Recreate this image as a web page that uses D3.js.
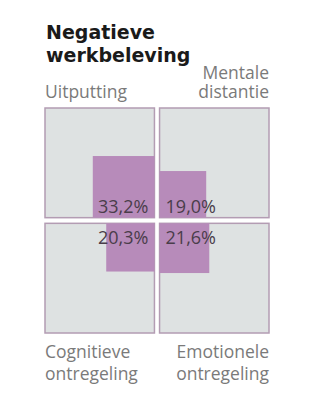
<!DOCTYPE html>
<html>
<head>
<meta charset="utf-8">
<script src="https://cdn.jsdelivr.net/npm/d3@7"></script>
<style>
  body { margin: 0; background: #fff; }
</style>
</head>
<body>
<div id="chart"></div>
<script>
const titleLines = ["Negatieve", "werkbeleving"];
const categories = [
  ["Uitputting"],
  ["Mentale", "distantie"],
  ["Cognitieve", "ontregeling"],
  ["Emotionele", "ontregeling"]
];
const values = [33.2, 19.0, 20.3, 21.6];
const valueLabels = ["33,2%", "19,0%", "20,3%", "21,6%"];

const width = 309,
  height = 401,
  gridLeft = 45,
  gridTop = 108,
  cell = 107,
  gapX = 10,
  gapY = 11;

const svg = d3.select("#chart").append("svg")
  .attr("width", width)
  .attr("height", height);

// title
svg.append("g")
  .selectAll("text")
  .data(titleLines)
  .join("text")
  .attr("x", 46)
  .attr("y", (d, i) => 39 + i * 23)
  .style("font-family", "'DejaVu Sans', sans-serif")
  .style("font-weight", 700)
  .style("font-size", "19px")
  .style("fill", "#1a1a1a")
  .text(d => d);

const col = d3.scaleBand().domain([0, 1]).range([gridLeft, gridLeft + 2 * cell + gapX]).paddingInner(gapX / (2 * cell + gapX));
const row = d3.scaleBand().domain([0, 1]).range([gridTop, gridTop + 2 * cell + gapY]).paddingInner(gapY / (2 * cell + gapY));
const side = d3.scaleSqrt().domain([0, 100]).range([0, cell]);

const cells = values.map((v, i) => ({
  value: v,
  label: valueLabels[i],
  cat: categories[i],
  c: i % 2,
  r: Math.floor(i / 2)
}));

const g = svg.append("g");

g.selectAll(".box")
  .data(cells)
  .join("rect")
  .attr("class", "box")
  .attr("x", d => col(d.c))
  .attr("y", d => row(d.r))
  .attr("width", col.bandwidth())
  .attr("height", row.bandwidth())
  .style("fill", "#dee2e2")
  .style("stroke", "#b39cb3")
  .style("stroke-width", 1.5);

// purple squares sit in the inner corner
g.selectAll(".val")
  .data(cells)
  .join("rect")
  .attr("class", "val")
  .attr("x", d => d.c === 0 ? col(d.c) + col.bandwidth() - side(d.value) : col(d.c))
  .attr("y", d => d.r === 0 ? row(d.r) + row.bandwidth() - side(d.value) : row(d.r))
  .attr("width", d => side(d.value))
  .attr("height", d => side(d.value))
  .style("fill", "#b78bba");

g.selectAll(".pct")
  .data(cells)
  .join("text")
  .attr("class", "pct")
  .attr("x", d => d.c === 0 ? col(d.c) + col.bandwidth() - 6 : col(d.c) + 6)
  .attr("y", d => d.r === 0 ? row(d.r) + row.bandwidth() - 5 : row(d.r) + 21)
  .attr("text-anchor", d => d.c === 0 ? "end" : "start")
  .style("font-family", "'Open Sans', sans-serif")
  .style("font-size", "18px")
  .style("fill", "#4a3d4a")
  .text(d => d.label);

// category labels
const labels = g.selectAll(".cat")
  .data(cells)
  .join("text")
  .attr("class", "cat")
  .attr("text-anchor", d => d.c === 0 ? "start" : "end")
  .style("font-family", "'Open Sans', sans-serif")
  .style("font-size", "17.5px")
  .style("fill", "#7a7a7a");

labels.selectAll("tspan")
  .data(d => d.cat.map((t, j) => ({
    t, j, n: d.cat.length, d
  })))
  .join("tspan")
  .attr("x", o => o.d.c === 0 ? col(0) : col(1) + col.bandwidth())
  .attr("y", o => o.d.r === 0
    ? row(0) - 10 - (o.n - 1 - o.j) * 19
    : row(1) + row.bandwidth() + 25 + o.j * 22)
  .text(o => o.t);
</script>
</body>
</html>
